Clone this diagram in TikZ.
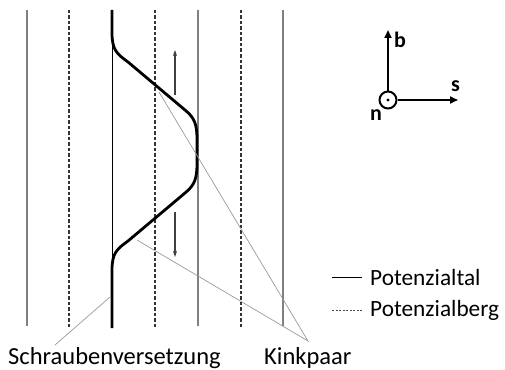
\documentclass[tikz,border=0pt]{standalone}
\usepackage{fontspec}
\setmainfont{Carlito}
\usetikzlibrary{arrows.meta}
\begin{document}
\begin{tikzpicture}[x=1pt,y=-1pt,
  valley/.style={draw=black!50, line width=1.5pt},
  ridge/.style={draw=black!80, line width=1.2pt, dash pattern=on 3.5pt off 2pt},
  axisline/.style={draw=black, line width=0.9pt},
  disl/.style={draw=black, line width=2.8pt, line join=round},
  motion/.style={draw=black!75, line width=1.5pt, -{Stealth[length=6pt,width=4pt]}},
  annot/.style={draw=black!40, line width=0.7pt},
  frame/.style={draw=black, line width=2pt, -{Triangle[length=8pt,width=7pt]}},
  lbl/.style={inner sep=0pt, font=\fontsize{24.5}{28}\selectfont},
  leg/.style={inner sep=0pt, font=\fontsize{23.3}{27}\selectfont},
  blbl/.style={inner sep=0pt, font=\fontsize{22}{26}\selectfont\bfseries}
]
\useasboundingbox (0,0) rectangle (505,369);
% potential valleys and ridges
\foreach \x/\n in {27/a,198/b,283/c}{
  \coordinate (v\n t) at (\x,10); \coordinate (v\n b) at (\x,326);
  \draw[valley] (v\n t) -- (v\n b);}
\foreach \x/\n in {69/a,155/b,241/c}{
  \coordinate (r\n t) at (\x,10); \coordinate (r\n b) at (\x,328);
  \draw[ridge] (r\n t) -- (r\n b);}
% straight screw dislocation reference line
\coordinate (st) at (112,10); \coordinate (sb) at (112,326);
\draw[axisline] (st) -- (sb);
% dislocation with kink pair
\draw[disl] (112,10) -- (112,33) .. controls (112,50) and (117,54) .. (128,62)
  -- (185,110) .. controls (195,118) and (197,125) .. (197,140)
  -- (197,163) .. controls (197,178) and (195,185) .. (185,193)
  -- (128,241) .. controls (117,249) and (112,253) .. (112,270) -- (112,328);
% kink motion arrows
\coordinate (u1) at (175,95); \coordinate (u2) at (175,50);
\coordinate (d1) at (175,212); \coordinate (d2) at (175,257);
\draw[motion] (u1) -- (u2);
\draw[motion] (d1) -- (d2);
% annotations
\coordinate (sp) at (110,297); \coordinate (se) at (55,345);
\draw[annot] (sp) -- (se);
\coordinate (k1) at (159,92); \coordinate (k2) at (137,240); \coordinate (ke) at (308,341);
\draw[annot] (k1) -- (ke) -- (k2);
\node[lbl, anchor=base west] (schr) at (8,364) {Schraubenversetzung};
\node[lbl, anchor=base west] (kink) at (264,364) {Kinkpaar};
% legend
\coordinate (l1a) at (332,277); \coordinate (l1b) at (362,277);
\coordinate (l2a) at (332,310); \coordinate (l2b) at (362,310);
\draw[draw=black, line width=0.8pt] (l1a) -- (l1b);
\draw[draw=black!70, line width=0.8pt, dash pattern=on 2pt off 1.5pt] (l2a) -- (l2b);
\node[leg, anchor=base west] (tal) at (370,285) {Potenzialtal};
\node[leg, anchor=base west] (berg) at (370,316) {Potenzialberg};
% coordinate frame
\node[draw=black, line width=2pt, circle, minimum size=17pt, inner sep=0pt] (o) at (388,100) {};
\fill (o.center) circle (1.7pt);
\coordinate (btip) at (388,30); \coordinate (stip) at (458,100);
\draw[frame] (o.north) -- (btip);
\draw[frame] (o.east) -- (stip);
\node[blbl, anchor=west] (bl) at (394,40) {b};
\node[blbl, anchor=west] (sl) at (451,86) {s};
\node[blbl, anchor=east] (nl) at (382,115) {n};
\end{tikzpicture}
\end{document}
